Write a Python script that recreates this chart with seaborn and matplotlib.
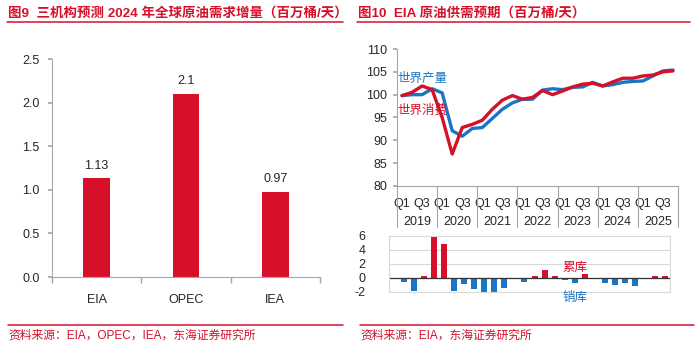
import numpy as np
import pandas as pd
import seaborn as sns
import matplotlib.pyplot as plt
import matplotlib.transforms as mtransforms
from matplotlib.lines import Line2D

# --- data -------------------------------------------------------------
agencies = ['EIA', 'OPEC', 'IEA']
demand_growth = [1.13, 2.1, 0.97]
demand_labels = ['1.13', '2.1', '0.97']

years = ['2019', '2020', '2021', '2022', '2023', '2024', '2025']
quarters = [f'{y}Q{q}' for y in years for q in range(1, 5)]
production = [99.8, 100.0, 100.0, 101.3, 100.4, 92.1, 90.9, 92.6, 92.8, 94.8,
              96.8, 98.2, 99.0, 99.0, 101.0, 101.3, 101.1, 101.6, 101.7, 102.7,
              101.9, 102.2, 102.7, 102.9, 103.0, 104.1, 105.2, 105.4]
consumption = [99.8, 100.5, 101.9, 101.1, 95.0, 87.0, 92.8, 93.5, 94.4, 96.8,
               98.8, 99.8, 99.0, 99.4, 100.9, 100.0, 100.8, 101.7, 102.3, 102.5,
               101.9, 102.8, 103.6, 103.6, 104.1, 104.3, 105.0, 105.2]
stock_change = [-0.1, -0.6, -1.9, 0.25, 6.0, 4.85, -1.9, -0.9, -1.65, -2.2,
                -2.1, -1.5, 0.0, -0.55, 0.2, 1.1, 0.3, -0.35, -0.7, 0.5,
                0.0, -0.8, -1.0, -0.7, -1.15, 0.0, 0.2, 0.3]
q_ticks = ['Q1', 'Q3']

RED = '#D7102A'
BLUE = '#1B75C6'
GREY = '#A6A6A6'
LIGHT = '#D9D9D9'

sns.set_theme(style='white')
plt.rcParams['font.family'] = ['Liberation Sans', 'Noto Sans CJK SC']
plt.rcParams['axes.unicode_minus'] = False

W, H = 700, 352
fig = plt.figure(figsize=(W / 100, H / 100), dpi=100)


def box(x0, y0, x1, y1):
    # pixel box (top-left origin) -> figure fraction rect
    return [x0 / W, 1 - y1 / H, (x1 - x0) / W, (y1 - y0) / H]


def hline(x0, x1, y):
    fig.add_artist(Line2D([x0 / W, x1 / W], [1 - y / H, 1 - y / H],
                          color=RED, lw=1.1, transform=fig.transFigure))


# --- titles / footers ---------------------------------------------------
fig.text(8 / W, 1 - 13 / H, '图9  三机构预测 2024 年全球原油需求增量（百万桶/天）',
         color=RED, fontsize=9.7, fontweight='bold', va='center')
fig.text(358 / W, 1 - 13 / H, '图10  EIA 原油供需预期（百万桶/天）',
         color=RED, fontsize=9.7, fontweight='bold', va='center')
hline(7, 343, 22)
hline(357, 690, 22)
hline(8, 343, 325)
hline(360, 694, 325)
fig.text(8 / W, 1 - 336 / H, '资料来源：EIA，OPEC，IEA，东海证券研究所',
         color=RED, fontsize=8.5, va='center')
fig.text(360 / W, 1 - 336 / H, '资料来源：EIA，东海证券研究所',
         color=RED, fontsize=8.5, va='center')

# --- left: demand growth bars ------------------------------------------
ax1 = fig.add_axes(box(52, 59, 320, 277))
sns.barplot(x=agencies, y=demand_growth, color=RED, saturation=1, width=0.3,
            linewidth=0, ax=ax1)
ax1.bar_label(ax1.containers[0], labels=demand_labels, padding=5, fontsize=9)
ax1.set_xlim(-0.5, 2.5)
ax1.set_ylim(0, 2.5)
ax1.set_yticks(np.arange(0, 2.51, 0.5))
ax1.set_yticklabels([f'{v:.1f}' for v in np.arange(0, 2.51, 0.5)])
ax1.set_xticks([-0.5, 0.5, 1.5, 2.5], minor=True)
ax1.tick_params(axis='y', left=True, length=3, color=GREY, labelsize=9, pad=6)
ax1.tick_params(axis='x', which='major', bottom=False, labelsize=9, pad=6)
ax1.tick_params(axis='x', which='minor', bottom=True, length=4, color=GREY)
for s in ['top', 'right']:
    ax1.spines[s].set_visible(False)
for s in ['left', 'bottom']:
    ax1.spines[s].set_color(GREY)
    ax1.spines[s].set_linewidth(0.8)

# --- right top: supply vs demand lines ---------------------------------
ax2 = fig.add_axes(box(397, 49, 678, 186))
lines = pd.DataFrame({'idx': np.arange(len(quarters)),
                      '世界产量': production, '世界消费': consumption})
lines = lines.melt(id_vars='idx', var_name='series', value_name='value')
sns.lineplot(data=lines, x='idx', y='value', hue='series',
             hue_order=['世界产量', '世界消费'],
             palette={'世界产量': BLUE, '世界消费': RED},
             linewidth=2.4, legend=False, ax=ax2)
ax2.set_xlim(-0.5, len(quarters) - 0.5)
ax2.set_ylim(80, 110)
ax2.set_yticks(np.arange(80, 111, 5))
ax2.set_xticks(np.arange(0, len(quarters), 2))
ax2.set_xticklabels(q_ticks * len(years))
ax2.set_xlabel('')
ax2.set_ylabel('')
ax2.tick_params(axis='y', left=True, length=3, color=GREY, labelsize=9, pad=4)
ax2.tick_params(axis='x', bottom=False, labelsize=9, pad=3)
for s in ['top', 'right']:
    ax2.spines[s].set_visible(False)
for s in ['left', 'bottom']:
    ax2.spines[s].set_color(GREY)
    ax2.spines[s].set_linewidth(0.8)
trans = mtransforms.blended_transform_factory(ax2.transData, ax2.transAxes)
for b in np.arange(-0.5, len(quarters), 4):
    ax2.plot([b, b], [0, -0.30], transform=trans, color=GREY, lw=0.8, clip_on=False)
for k, y in enumerate(years):
    ax2.text(1.5 + 4 * k, -0.265, y, transform=trans, ha='center', va='center', fontsize=9)
ax2.text(-0.45, 103.4, '世界产量', color=BLUE, fontsize=9, va='center', ha='left')
ax2.text(-0.45, 96.6, '世界消费', color=RED, fontsize=9, va='center', ha='left')

# --- right bottom: stock change bars -----------------------------------
ax3 = fig.add_axes(box(389, 236, 670, 291.6))
bar_colors = [RED if v >= 0 else BLUE for v in stock_change]
sns.barplot(x=quarters, y=stock_change, hue=quarters, order=quarters,
            palette=bar_colors, saturation=1, width=0.6, linewidth=0,
            legend=False, ax=ax3)
for p in ax3.patches:
    p.set_clip_on(False)
ax3.set_xlim(-0.5, len(quarters) - 0.5)
ax3.set_ylim(-2, 6)
ax3.set_yticks([-2, 0, 2, 4, 6])
ax3.set_xticks([])
ax3.set_xlabel('')
ax3.set_ylabel('')
ax3.yaxis.grid(True, color=LIGHT, lw=0.8)
ax3.set_axisbelow(True)
ax3.axhline(0, color='#333333', lw=0.9)
ax3.tick_params(axis='y', left=False, labelsize=9, pad=11)
for s in ax3.spines.values():
    s.set_color(LIGHT)
    s.set_linewidth(0.8)
ax3.text(18, 1.4, '累库', color=RED, fontsize=9, ha='center', va='center')
ax3.text(18, -2.9, '销库', color=BLUE, fontsize=9, ha='center', va='center', clip_on=False)

fig.savefig('out.png', dpi=100)
